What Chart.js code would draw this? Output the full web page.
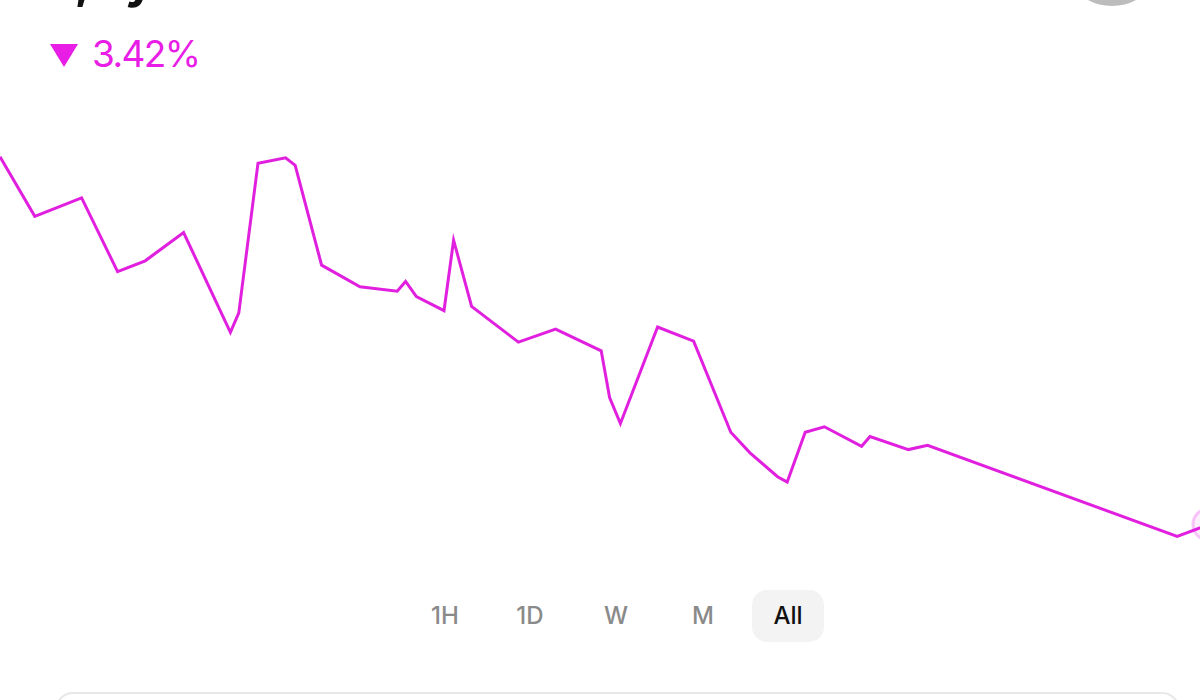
<!DOCTYPE html>
<html>
<head>
<meta charset="utf-8">
<script src="https://cdn.jsdelivr.net/npm/chart.js@4/dist/chart.umd.min.js"></script>
<style>
  html, body { margin:0; padding:0; background:#fff; width:1200px; height:700px; overflow:hidden; font-family: Inter, "Liberation Sans", Arial, sans-serif; }
  #wrap { position:relative; width:1200px; height:700px; overflow:hidden; }
  #title { position:absolute; left:52px; top:-51px; font-size:50px; font-weight:700; color:#111; white-space:nowrap; letter-spacing:1px; }
  #avatar { position:absolute; left:1062px; top:-94px; width:88px; height:88px; border-radius:50%; border:6px solid #bcbcbc; background:#fff; }
  #change { position:absolute; left:50px; top:30px; height:46px; display:flex; align-items:center; color:#e81ee6; font-size:37px; letter-spacing:-1.6px; }
  #tri { width:0; height:0; border-left:14px solid transparent; border-right:14px solid transparent; border-top:23px solid #e81ee6; margin-right:14px; margin-top:4px; }
  #chartBox { position:absolute; left:0; top:110px; width:1200px; height:460px; }
  .btn { position:absolute; top:590px; height:52px; line-height:52px; font-size:24px; font-weight:500; color:#8a8a8a; text-align:center; transform:translateX(-50%); padding:0 18px; border-radius:15px; }
  .btn.active { color:#111; background:#f3f3f3; width:36px; }
  #panel { position:absolute; left:55px; top:692px; width:1121px; height:80px; border:2px solid #e8e8e8; border-radius:18px; }
</style>
</head>
<body>
<div id="wrap">
  <div id="title">1,2y</div>
  <div id="avatar"></div>
  <div id="change"><div id="tri"></div><span id="pct"></span></div>
  <div id="chartBox"><canvas id="c" width="1200" height="460"></canvas></div>
  <div id="btns"></div>
  <div id="panel"></div>
</div>
<script>
// ---- data ----
const timePoints = [0, 2.9, 6.8, 9.8, 12.1, 15.3, 19.2, 19.9, 21.5, 23.8, 24.6, 26.8, 30.0, 33.1, 33.8, 34.7, 37.0, 37.8, 39.3, 43.2, 46.3, 50.1, 50.8, 51.7, 54.8, 57.8, 60.9, 62.5, 64.8, 65.6, 67.1, 68.7, 71.8, 72.5, 75.7, 77.3, 98.1, 100.75];
const priceValues = [100.00, 99.45, 99.62, 98.94, 99.04, 99.30, 98.38, 98.56, 99.94, 99.99, 99.92, 99.00, 98.80, 98.76, 98.85, 98.71, 98.58, 99.23, 98.62, 98.29, 98.41, 98.21, 97.78, 97.54, 98.43, 98.30, 97.46, 97.27, 97.05, 97.00, 97.46, 97.51, 97.33, 97.42, 97.30, 97.34, 96.50, 96.61];
const rangeLabels = ["1H", "1D", "W", "M", "All"];
const activeRange = "All";
const changeText = "3.42%";
const xMin = 0, xMax = 100;
const yMin = 96.19, yMax = 100.43;

// ---- text ----
document.getElementById('pct').textContent = changeText;
const btnCenters = [445, 530, 616, 703, 788];
const btns = document.getElementById('btns');
rangeLabels.forEach((l, i) => {
  const d = document.createElement('div');
  d.className = 'btn' + (l === activeRange ? ' active' : '');
  d.style.left = btnCenters[i] + 'px';
  d.textContent = l;
  btns.appendChild(d);
});

// ---- chart ----
const lineColor = '#e020de';
const lastIdx = priceValues.length - 1;
new Chart(document.getElementById('c'), {
  type: 'line',
  data: {
    datasets: [{
      data: timePoints.map((t, i) => ({ x: t, y: priceValues[i] })),
      borderColor: lineColor,
      borderWidth: 3,
      tension: 0,
      fill: false,
      clip: false,
      pointRadius: ctx => ctx.dataIndex === lastIdx ? 16 : 0,
      pointBackgroundColor: 'rgba(230,40,230,0.07)',
      pointBorderColor: 'rgba(230,40,230,0.25)',
      pointBorderWidth: 3,
      pointHoverRadius: 0
    }]
  },
  options: {
    responsive: false,
    animation: false,
    layout: { padding: 0, autoPadding: false },
    plugins: { legend: { display: false }, tooltip: { enabled: false } },
    scales: {
      x: { type: 'linear', min: xMin, max: xMax, display: false },
      y: { min: yMin, max: yMax, display: false }
    }
  }
});
</script>
</body>
</html>
